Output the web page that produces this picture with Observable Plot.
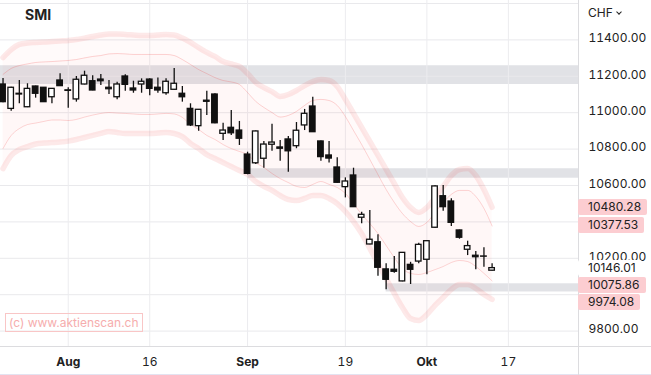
<!DOCTYPE html>
<html><head><meta charset="utf-8">
<script src="https://cdn.jsdelivr.net/npm/d3@7"></script>
<script src="https://cdn.jsdelivr.net/npm/@observablehq/plot@0.6"></script>
<style>
html,body{margin:0;padding:0;background:#fff;}
#chart{position:relative;width:651px;height:375px;overflow:hidden;font-family:Inter,"Noto Sans",sans-serif;box-shadow:inset 0 -1px 0 #e3e3f1;}
#chart svg{position:absolute;left:0;top:0;}
.tag{position:absolute;height:16px;line-height:16px;padding:0 6px 0 10px;font-size:12px;color:#222;background:#fccdd1;border-radius:2px;white-space:nowrap;}
.tag.plain{background:#fff;}
.ccy{position:absolute;left:588px;top:5px;font-size:12px;color:#222;}
.ccy i{display:inline-block;width:3px;height:3px;border-right:1.3px solid #222;border-bottom:1.3px solid #222;transform:rotate(45deg);margin-left:4px;position:relative;top:-3px;}
.title{position:absolute;left:25px;top:6px;font-size:14px;font-weight:bold;color:#222;}
.wm{position:absolute;left:5px;top:313px;height:17px;line-height:17px;padding:0 3px;border:1px solid #f9c6c6;color:#f6adad;font-size:12px;}
</style>
</head><body>
<div id="chart"></div>
<script>
// trading days (SIX), index = x position
const days = [
 "2022-07-20","2022-07-21","2022-07-22","2022-07-25","2022-07-26","2022-07-27","2022-07-28","2022-07-29",
 "2022-08-02","2022-08-03","2022-08-04","2022-08-05","2022-08-08","2022-08-09","2022-08-10","2022-08-11","2022-08-12",
 "2022-08-15","2022-08-16","2022-08-17","2022-08-18","2022-08-19","2022-08-22","2022-08-23","2022-08-24","2022-08-25",
 "2022-08-26","2022-08-29","2022-08-30","2022-08-31",
 "2022-09-01","2022-09-02","2022-09-05","2022-09-06","2022-09-07","2022-09-08","2022-09-09","2022-09-12","2022-09-13",
 "2022-09-14","2022-09-15","2022-09-16","2022-09-19","2022-09-20","2022-09-21","2022-09-22","2022-09-23","2022-09-26",
 "2022-09-27","2022-09-28","2022-09-29","2022-09-30",
 "2022-10-03","2022-10-04","2022-10-05","2022-10-06","2022-10-07","2022-10-10","2022-10-11","2022-10-12","2022-10-13",
 "2022-10-14","2022-10-17","2022-10-18","2022-10-19","2022-10-20","2022-10-21","2022-10-24","2022-10-25","2022-10-26",
 "2022-10-27","2022-10-28"
];

const open = [11155,11021,11104,11030,11144,11137,11085,11177,11120,11073,
 11155,11173,11182,11137,11085,11199,11133,11155,11182,11137,
 11107,11126,11104,11021,10926,11066,11100,10884,10917,10902,
 10770,10722,10747,10824,10809,10853,10816,10930,11034,10842,
 10765,10699,10591,10655,10423,10276,10288,10139,10137,10073,
 10164,10182,10192,10368,10541,10512,10353,10247,10214,10210,
 10132];
const high = [11188,11140,11177,11159,11146,11139,11133,11214,11137,11199,
 11228,11203,11210,11177,11168,11208,11173,11186,11186,11190,
 11186,11243,11144,11049,11018,11118,11104,10942,11012,10952,
 10783,10899,10842,10937,10847,10869,10946,11018,11085,10844,
 10842,10752,10642,10695,10453,10463,10329,10170,10210,10232,
 10178,10283,10296,10598,10600,10527,10355,10294,10238,10258,
 10170];
const low = [11055,11008,11049,11028,11080,11056,11049,11144,11025,11058,
 11153,11120,11150,11100,11071,11118,11107,11107,11093,11107,
 11096,11124,11058,10924,10898,10985,10939,10847,10875,10820,
 10659,10715,10695,10788,10733,10673,10802,10902,10891,10733,
 10723,10613,10532,10479,10390,10274,10102,10027,10118,10071,
 10056,10170,10109,10365,10459,10375,10305,10215,10137,10151,
 10130];
const close = [11058,11137,11100,11131,11104,11058,11131,11146,11123,11181,
 11203,11122,11173,11129,11155,11153,11122,11170,11131,11122,
 11170,11159,11085,10930,11016,11060,10942,10902,10887,10857,
 10664,10897,10825,10836,10802,10788,10901,10994,10893,10756,
 10748,10615,10622,10481,10439,10302,10148,10082,10126,10230,
 10137,10274,10294,10595,10481,10395,10313,10267,10206,10209,
 10146.01];

// channel bands
const upperOuter = [11303,11347,11375,11383,11386,11388,11391,11394,11397,11402,
 11410,11419,11427,11432,11432,11430,11427,11424,11424,11427,
 11430,11427,11410,11386,11358,11331,11309,11281,11268,11254,
 11215,11166,11138,11116,11089,11100,11122,11149,11171,11182,
 11177,11144,11073,10996,10919,10842,10765,10688,10611,10534,
 10479,10452,10479,10534,10595,10655,10688,10693,10655,10578,
 10480.28];
const upperInner = [11210,11243,11259,11268,11276,11279,11281,11284,11287,11292,
 11301,11309,11314,11323,11325,11323,11320,11320,11320,11320,
 11320,11314,11292,11265,11237,11215,11193,11177,11169,11155,
 11111,11062,11029,11001,10976,10985,11007,11040,11067,11073,
 11067,11040,10979,10902,10825,10743,10660,10578,10507,10446,
 10402,10375,10397,10452,10507,10551,10573,10573,10540,10474,
 10377.53];
const lowerInner = [10803,10875,10913,10935,10943,10952,10960,10960,10957,10963,
 10976,10987,10996,11001,10998,10996,10993,10990,10990,10993,
 10996,10993,10974,10935,10908,10875,10853,10825,10803,10787,
 10770,10726,10699,10666,10638,10616,10595,10589,10606,10622,
 10606,10589,10556,10501,10441,10391,10336,10270,10204,10144,
 10117,10111,10122,10138,10155,10177,10188,10182,10155,10117,
 10075.86];
const lowerOuter = [10693,10765,10798,10814,10828,10833,10836,10839,10844,10853,
 10864,10875,10886,10897,10891,10886,10886,10886,10886,10888,
 10891,10886,10869,10831,10803,10770,10748,10726,10704,10682,
 10660,10622,10595,10573,10545,10523,10518,10529,10545,10545,
 10529,10501,10457,10402,10336,10254,10171,10089,10007,9930,
 9869,9858,9891,9941,9985,10029,10056,10056,10034,10001,
 9974.08];

// support / resistance zones
const zoneFrom = [null, "2022-09-01", "2022-09-26"];
const zoneLow  = [11155, 10640, 10015];
const zoneHigh = [11258, 10692, 10060];

// axes (10400 and 10000 labels sit under the price tags, only their grid lines show)
const yTicks = [9800,10200,10600,10800,11000,11200,11400];
const yGrid = [9800,10000,10200,10400,10600,10800,11000,11200,11400,11600];
const monthTickDays = ["2022-08-02","2022-09-01","2022-10-03"];
const monthTickLabels = ["Aug","Sep","Okt"];
const dayTickDays = ["2022-08-16","2022-09-19","2022-10-17"];
const dayTickLabels = ["16","19","17"];

// price tags on the right
const tagValues = [10480.28, 10377.53, 10146.01, 10075.86, 9974.08];
const tagPlain  = [false, false, true, false, false];

const xDomain = [-0.31, 70.6];
const yDomain = [9715.4, 11616.5];

const data = open.map((o, i) => ({
  i, date: days[i], open: o, high: high[i], low: low[i], close: close[i],
  uo: upperOuter[i], ui: upperInner[i], li: lowerInner[i], lo: lowerOuter[i]
}));
const zones = zoneLow.map((lo, k) => ({
  x1: zoneFrom[k] == null ? xDomain[0] : days.indexOf(zoneFrom[k]),
  x2: xDomain[1], y1: lo, y2: zoneHigh[k]
}));
const idx = d => days.indexOf(d);
const monthIdx = monthTickDays.map(idx);
const dayIdx = dayTickDays.map(idx);
const allIdx = [...monthIdx, ...dayIdx];

const curve = "monotone-x";
const plot = Plot.plot({
  width: 651, height: 375,
  marginLeft: 0, marginRight: 73, marginTop: 0, marginBottom: 29,
  style: {fontFamily: "Inter, 'Noto Sans', sans-serif", fontSize: "12px", color: "#222", background: "transparent"},
  x: {type: "linear", domain: xDomain, axis: null},
  y: {type: "linear", domain: yDomain, axis: null},
  marks: [
    Plot.rect(zones, {x1: "x1", x2: "x2", y1: "y1", y2: "y2", fill: "#e1e2e6"}),
    Plot.gridY(yGrid, {stroke: "#e9e9ec", strokeOpacity: 1}),
    Plot.gridX(allIdx, {stroke: "#ececef", strokeOpacity: 1}),
    Plot.areaY(data, {x: "i", y1: "lo", y2: "uo", fill: "#ee3333", fillOpacity: 0.025, curve}),
    Plot.areaY(data, {x: "i", y1: "li", y2: "ui", fill: "#ee3333", fillOpacity: 0.015, curve}),
    Plot.line(data, {x: "i", y: "uo", stroke: "#ee3333", strokeOpacity: 0.11, strokeWidth: 5.5, curve}),
    Plot.line(data, {x: "i", y: "lo", stroke: "#ee3333", strokeOpacity: 0.11, strokeWidth: 5.5, curve}),
    Plot.line(data, {x: "i", y: "ui", stroke: "#ee3333", strokeOpacity: 0.2, strokeWidth: 1, curve}),
    Plot.line(data, {x: "i", y: "li", stroke: "#ee3333", strokeOpacity: 0.2, strokeWidth: 1, curve}),
    Plot.ruleX(data, {x: "i", y1: "low", y2: "high", stroke: "#111", strokeWidth: 1.3}),
    Plot.rect(data, {x1: d => d.i - 0.34, x2: d => d.i + 0.34, y1: "open", y2: "close",
      fill: d => d.close >= d.open ? "#fff" : "#111", stroke: "#111", strokeWidth: 1.3}),
    Plot.ruleY([yDomain[0]], {x1: xDomain[0], x2: 90, stroke: "#dcdcdf", clip: false}),
    Plot.ruleX([xDomain[1]], {y1: 9400, y2: yDomain[1], stroke: "#dcdcdf", clip: false}),
    Plot.axisY(yTicks, {anchor: "right", tickSize: 0, tickPadding: 10, dy: -1.5, tickFormat: d => d.toFixed(2), label: null, fontSize: 12, fill: "#222"}),
    Plot.axisX(monthIdx, {anchor: "bottom", tickSize: 0, tickPadding: 11, tickFormat: (d) => monthTickLabels[monthIdx.indexOf(d)], label: null, fontWeight: "bold", fontSize: 12, fill: "#222"}),
    Plot.axisX(dayIdx, {anchor: "bottom", tickSize: 0, tickPadding: 11, tickFormat: (d) => dayTickLabels[dayIdx.indexOf(d)], label: null, fontSize: 12, fill: "#222"})
  ]
});

const host = document.getElementById("chart");
host.appendChild(plot);

const ys = plot.scale("y");
const xs = plot.scale("x");
const left = xs.apply(xDomain[1]);
// place tags at their value, pushing lower ones down so none overlap
let prevCenter = -Infinity;
const step = 17;
tagValues.forEach((v, k) => {
  const c = Math.max(ys.apply(v), prevCenter + step);
  prevCenter = c;
  const el = document.createElement("div");
  el.className = "tag" + (tagPlain[k] ? " plain" : "");
  el.textContent = v.toFixed(2);
  el.style.left = left + "px";
  el.style.top = (c - 8) + "px";
  host.appendChild(el);
});

const title = document.createElement("div");
title.className = "title"; title.textContent = "SMI"; host.appendChild(title);
const ccy = document.createElement("div");
ccy.className = "ccy"; ccy.innerHTML = "CHF<i></i>"; host.appendChild(ccy);
const wm = document.createElement("div");
wm.className = "wm"; wm.textContent = "(c) www.aktienscan.ch"; host.appendChild(wm);
</script>
</body></html>
